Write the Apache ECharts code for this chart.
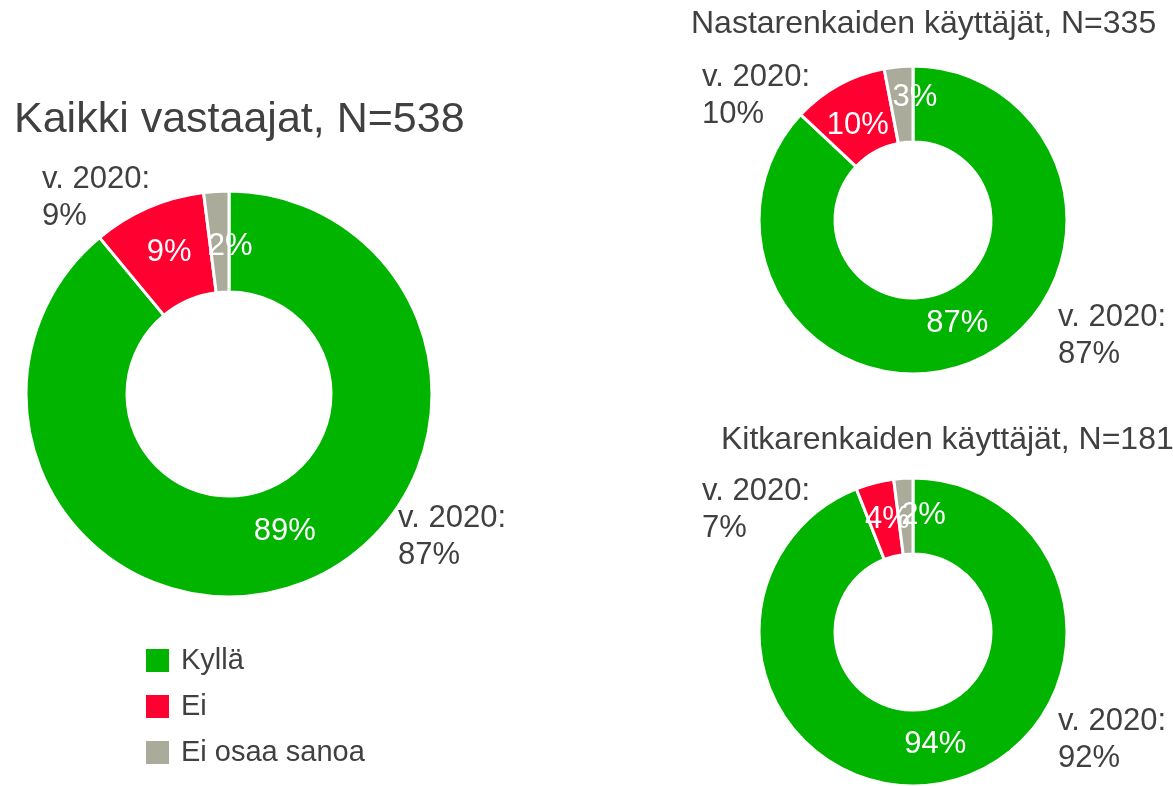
<!DOCTYPE html>
<html>
<head>
<meta charset="utf-8">
<script src="https://cdn.jsdelivr.net/npm/echarts@6/dist/echarts.min.js"></script>
<style>
html,body{margin:0;padding:0;background:#fff;}
#chart{width:1173px;height:786px;}
</style>
</head>
<body>
<div id="chart"></div>
<script>
var categories = ['Kyllä', 'Ei', 'Ei osaa sanoa'];
var colors = ['#00B400', '#FF0030', '#ABAB9B'];
var titles = ['Kaikki vastaajat, N=538', 'Nastarenkaiden käyttäjät, N=335', 'Kitkarenkaiden käyttäjät, N=181'];
var allValues = [89, 9, 2];
var studdedValues = [87, 10, 3];
var frictionValues = [94, 4, 2];
// 2020 comparison values: [Kyllä, Ei]
var all2020 = [87, 9];
var studded2020 = [87, 10];
var friction2020 = [92, 7];

var FONT = '"Liberation Sans", Arial, sans-serif';
var TXT = '#404040';

function pieSeries(name, values, center, radius, fs, shifts) {
  return {
    type: 'pie',
    name: name,
    center: center,
    radius: radius,
    startAngle: 90,
    clockwise: true,
    animation: false,
    silent: true,
    avoidLabelOverlap: false,
    labelLayout: { hideOverlap: false },
    itemStyle: { borderColor: '#fff', borderWidth: 3 },
    label: {
      show: true, position: 'inside', formatter: '{c}%',
      color: '#fff', fontSize: fs, fontFamily: FONT
    },
    labelLine: { show: false },
    emphasis: { disabled: true },
    data: values.map(function (v, i) {
      return {
        name: categories[i], value: v,
        itemStyle: { color: colors[i] },
        label: { offset: shifts[i] }
      };
    })
  };
}

function textEl(str, x, y, size) {
  return {
    type: 'text', x: x, y: y, silent: true,
    style: {
      text: str, fill: TXT, font: size + 'px ' + FONT,
      align: 'left', verticalAlign: 'middle', lineHeight: 37
    }
  };
}
function note(v, x, y) { return textEl('v. 2020:\n' + v + '%', x, y, 31); }

var chart = echarts.init(document.getElementById('chart'));
chart.setOption({
  backgroundColor: '#fff',
  animation: false,
  legend: {
    orient: 'vertical', left: 146, top: 646, padding: 0,
    itemWidth: 23, itemHeight: 23, itemGap: 17,
    icon: 'rect',
    selectedMode: false,
    data: categories,
    itemStyle: { borderWidth: 0 },
    textStyle: { color: TXT, fontSize: 29, fontFamily: FONT, padding: [0, 0, 0, 7] }
  },
  graphic: [
    textEl(titles[0], 14, 120, 43),
    textEl(titles[1], 691, 24, 32),
    textEl(titles[2], 721, 440, 32),
    note(all2020[1], 42, 198),
    note(all2020[0], 398, 537),
    note(studded2020[1], 702, 96),
    note(studded2020[0], 1058, 336),
    note(friction2020[1], 702, 510),
    note(friction2020[0], 1058, 740)
  ],
  series: [
    pieSeries('all', allValues, [229, 394], [102, 203], 31, [[3, -9], [2, 1], [11, 8]]),
    pieSeries('studded', studdedValues, [913, 220], [78, 154], 31, [[-3, -6], [2, 10], [13, -4]]),
    pieSeries('friction', frictionValues, [913, 632], [78, 154], 31, [[0, -4], [4, 3], [18, 2]])
  ]
});
</script>
</body>
</html>
